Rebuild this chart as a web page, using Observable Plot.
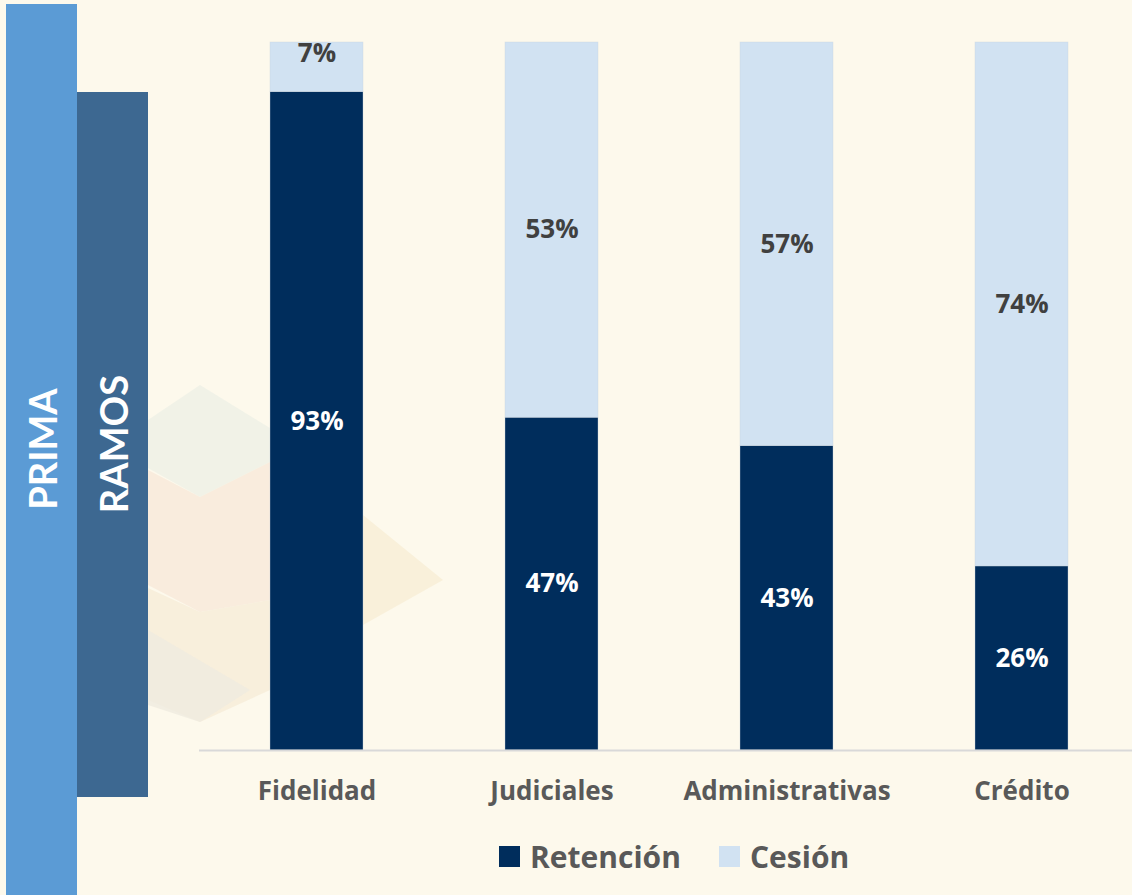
<!DOCTYPE html>
<html>
<head>
<meta charset="utf-8">
<script src="https://cdn.jsdelivr.net/npm/d3@7"></script>
<script src="https://cdn.jsdelivr.net/npm/@observablehq/plot@0.6"></script>
<style>
  html, body { margin: 0; padding: 0; background: #fdf9ec; }
  #wrap { position: relative; width: 1132px; height: 895px; overflow: hidden; background: #fdf9ec; font-family: "Open Sans", Lato, sans-serif; }
  #bg { position: absolute; left: 0; top: 0; }
  #prima { position: absolute; left: 6px; top: 4px; width: 71px; height: 891px; background: #5b9bd5; }
  #ramos { position: absolute; left: 77px; top: 92px; width: 71px; height: 705px; background: #3d6891; }
  .vlabel { position: absolute; color: #fff; font-family: Lato, sans-serif; font-weight: 700; font-size: 38px; transform: translate(-50%, -50%) rotate(-90deg); white-space: nowrap; }
  #chart { position: absolute; left: 0; top: 0; }
  #chart svg { background: transparent; overflow: visible; }
  g[aria-label="labels"] text { text-shadow: 1px 2px 2px rgba(0,0,0,0.35); }
  #legend { position: absolute; top: 836px; left: 0; width: 1132px; }
  .item { position: absolute; display: flex; align-items: center; font-family: "Open Sans", sans-serif; font-weight: 700; font-size: 30px; color: #595959; }
  .sw { width: 21px; height: 21px; margin-right: 10px; }
</style>
</head>
<body>
<div id="wrap">
  <svg id="bg" width="1132" height="895">
    <polygon points="200,385 270,428 270,462 200,497 148,468 148,420" fill="#eef0e6" opacity="0.8"/>
    <polygon points="148,470 200,497 270,462 270,600 200,612 148,585" fill="#f8e8da" opacity="0.8"/>
    <polygon points="148,588 200,612 270,600 270,690 200,722 148,700" fill="#f6ecd8" opacity="0.8"/>
    <polygon points="363,515 443,580 363,625" fill="#f8eed6" opacity="0.8"/>
    <polygon points="148,630 250,690 200,722 148,705" fill="#efebe0" opacity="0.8"/>
  </svg>
  <div id="prima"></div>
  <div id="ramos"></div>
  <div class="vlabel" style="left:42px; top:449px;">PRIMA</div>
  <div class="vlabel" style="left:113px; top:444px;">RAMOS</div>
  <div id="chart"></div>
  <div id="legend"></div>
</div>
<script>
const categories = ["Fidelidad", "Judiciales", "Administrativas", "Crédito"];
const retencion = [0.93, 0.47, 0.43, 0.26];
const cesion = [0.07, 0.53, 0.57, 0.74];
const series = ["Retención", "Cesión"];
const seriesColors = ["#002d5c", "#d1e2f2"];
const labelColors = ["#ffffff", "#404040"];

const data = categories.flatMap((c, i) => [
  {cat: c, serie: series[0], v: retencion[i]},
  {cat: c, serie: series[1], v: cesion[i]}
]);

const labelMark = (test, dy) => Plot.text(data, Plot.filter(test, Plot.stackY({
  x: "cat", y: "v", order: series,
  dy,
  text: d => Math.round(d.v * 100) + "%",
  fill: d => labelColors[series.indexOf(d.serie)],
  fontSize: 26, fontWeight: "bold",
  ariaLabel: "labels"
})));

const chart = Plot.plot({
  width: 1132,
  height: 820,
  marginLeft: 199,
  marginRight: 0,
  marginTop: 42,
  marginBottom: 70,
  style: {fontFamily: "'Open Sans', Lato, sans-serif", background: "transparent"},
  x: {domain: categories, paddingInner: 0.604, paddingOuter: 0.287, align: 0.526, label: null},
  y: {domain: [0, 1], axis: null},
  color: {domain: series, range: seriesColors},
  marks: [
    Plot.barY(data, {x: "cat", y: "v", fill: "serie", order: series, stroke: "#c9d3dd", strokeWidth: 0.6, strokeOpacity: 0.6}),
    Plot.ruleY([0], {stroke: "#d9d9d9", strokeWidth: 2}),
    labelMark(d => d.v >= 0.1, 0),
    labelMark(d => d.v < 0.1, -14),
    Plot.axisX({tickSize: 0, tickPadding: 31, fontSize: 26, fontWeight: "bold", fill: "#595959", label: null})
  ]
});
document.getElementById("chart").appendChild(chart);

const legend = document.getElementById("legend");
const legendX = [499, 719];
series.forEach((s, i) => {
  const it = document.createElement("div");
  it.className = "item";
  it.style.left = legendX[i] + "px";
  const sw = document.createElement("div");
  sw.className = "sw";
  sw.style.background = seriesColors[i];
  const t = document.createElement("span");
  t.textContent = s;
  it.appendChild(sw);
  it.appendChild(t);
  legend.appendChild(it);
});
</script>
</body>
</html>
